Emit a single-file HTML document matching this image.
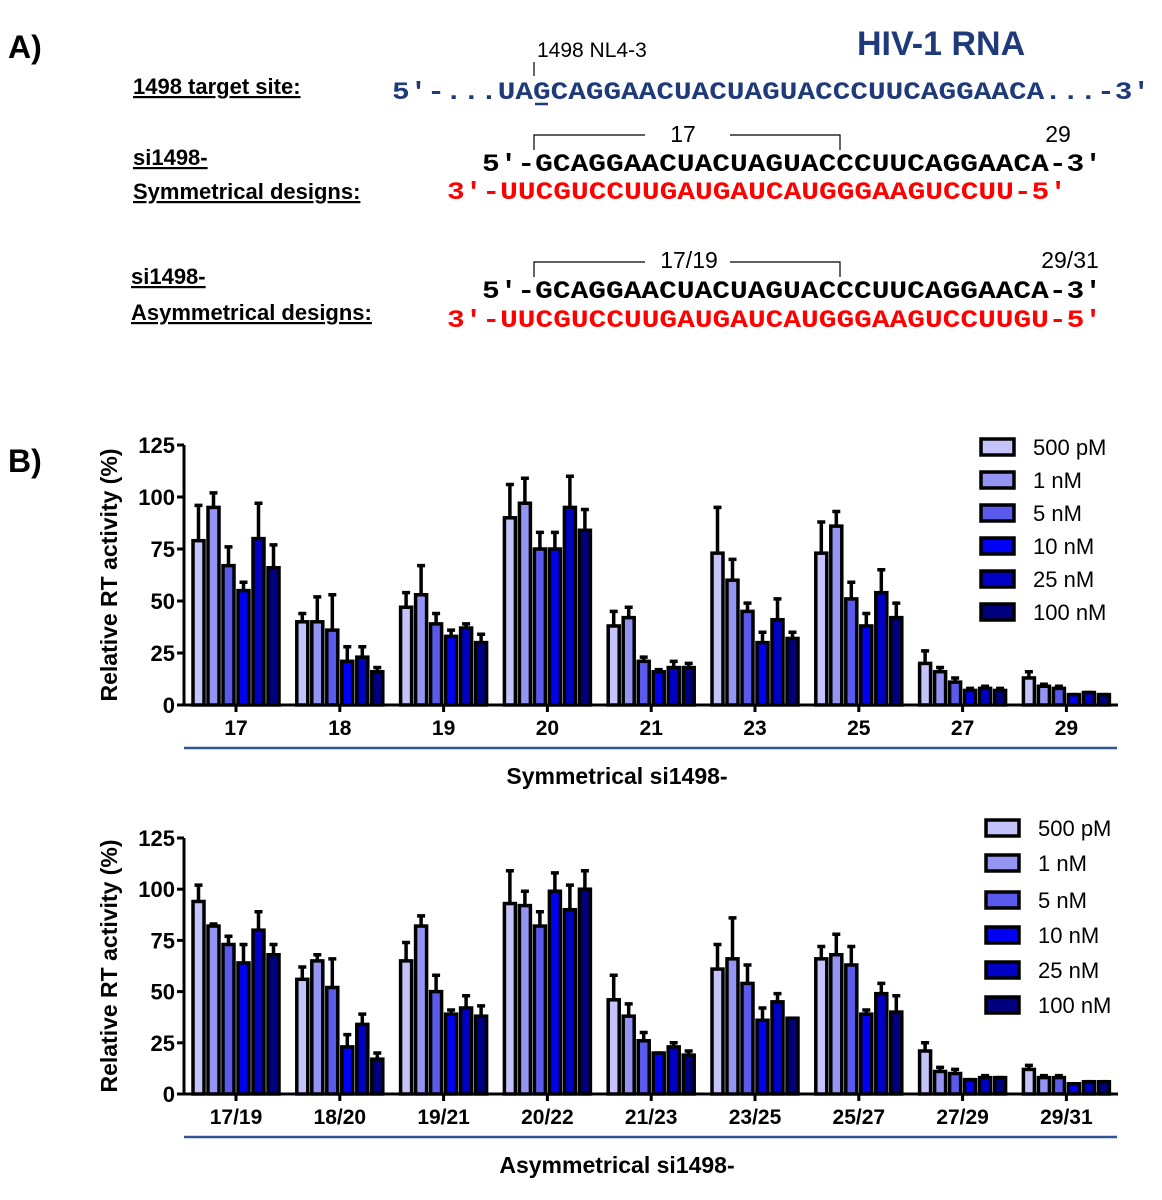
<!DOCTYPE html>
<html><head><meta charset="utf-8"><style>
body{margin:0;background:#fff}
svg{display:block}
text{font-family:"Liberation Sans",sans-serif}
.mono{font-family:"Liberation Mono",monospace;font-weight:bold}
</style></head><body>
<svg id="fig" width="1162" height="1200" viewBox="0 0 1162 1200">
<g>
<text x="8" y="58" font-size="32" font-weight="bold">A)</text>
<text x="537" y="57" font-size="21">1498 NL4-3</text>
<line x1="534" y1="62" x2="534" y2="76" stroke="#000" stroke-width="1.2"/>
<text x="857" y="55" font-size="34" font-weight="bold" fill="#1f3a7a">HIV-1 RNA</text>
<text x="133" y="94" font-size="22" font-weight="bold" text-decoration="underline">1498 target site:</text>
<text class="mono" x="392" y="99" font-size="25" fill="#1f3a7a" textLength="758" lengthAdjust="spacingAndGlyphs">5′-...UAGCAGGAACUACUAGUACCCUUCAGGAACA...-3′</text>
<line x1="535" y1="104" x2="548" y2="104" stroke="#1f3a7a" stroke-width="2.5"/>
<path d="M534 150V135H645M730 135H840V150" fill="none" stroke="#000" stroke-width="1.2"/>
<text x="683" y="142" font-size="23" text-anchor="middle">17</text>
<text x="1058" y="142" font-size="23" text-anchor="middle">29</text>
<text x="133" y="165" font-size="22" font-weight="bold" text-decoration="underline">si1498-</text>
<text x="133" y="199" font-size="22" font-weight="bold" text-decoration="underline">Symmetrical  designs:</text>
<text class="mono" x="482" y="171" font-size="25" textLength="620" lengthAdjust="spacingAndGlyphs">5′-GCAGGAACUACUAGUACCCUUCAGGAACA-3′</text>
<text class="mono" x="447" y="199" font-size="25" fill="#f00" textLength="620" lengthAdjust="spacingAndGlyphs">3′-UUCGUCCUUGAUGAUCAUGGGAAGUCCUU-5′</text>
<path d="M534 277V262H645M730 262H840V277" fill="none" stroke="#000" stroke-width="1.2"/>
<text x="689" y="268" font-size="23" text-anchor="middle">17/19</text>
<text x="1070" y="268" font-size="23" text-anchor="middle">29/31</text>
<text x="131" y="284" font-size="22" font-weight="bold" text-decoration="underline">si1498-</text>
<text x="131" y="320" font-size="22" font-weight="bold" text-decoration="underline">Asymmetrical designs:</text>
<text class="mono" x="482" y="298" font-size="25" textLength="620" lengthAdjust="spacingAndGlyphs">5′-GCAGGAACUACUAGUACCCUUCAGGAACA-3′</text>
<text class="mono" x="447" y="327" font-size="25" fill="#f00" textLength="655" lengthAdjust="spacingAndGlyphs">3′-UUCGUCCUUGAUGAUCAUGGGAAGUCCUUGU-5′</text>
</g>
<text x="8" y="472" font-size="32" font-weight="bold">B)</text>
<g id="c1"></g>
<g id="c2"></g>
</svg>
<script>
const seriesNames=["500 pM","1 nM","5 nM","10 nM","25 nM","100 nM"];
const colors=["#c4c4fa","#9494f2","#5a5aec","#0000f2","#0000c4","#00007e"];
const yTicks=[0,25,50,75,100,125];
const symCategories=["17","18","19","20","21","23","25","27","29"];
const symMeans=[[79,95,67,55,80,66],[40,40,36,21,23,16],[47,53,39,33,37,30],[90,97,75,75,95,84],[38,42,21,16,18,18],[73,60,45,30,41,32],[73,86,51,38,54,42],[20,16,11,7,8,7],[13,9,8,5,6,5]];
const symErrTop=[[96,102,76,59,97,77],[44,52,53,28,28,18],[54,67,44,36,39,34],[106,109,83,83,110,94],[45,47,23,17,21,20],[95,70,49,35,51,35],[88,93,59,44,65,49],[26,18,13,8,9,8],[16,10,9,5,6,5]];
const asymCategories=["17/19","18/20","19/21","20/22","21/23","23/25","25/27","27/29","29/31"];
const asymMeans=[[94,82,73,64,80,68],[56,65,52,23,34,17],[65,82,50,39,42,38],[93,92,82,99,90,100],[46,38,26,20,23,19],[61,66,54,36,45,37],[66,68,63,39,49,40],[21,11,10,7,8,8],[12,8,8,5,6,6]];
const asymErrTop=[[102,83,77,73,89,73],[62,68,66,29,39,20],[74,87,58,41,48,43],[109,99,89,108,102,109],[58,44,30,20,25,21],[73,86,63,42,49,37],[72,78,72,41,54,48],[25,13,12,7,9,8],[14,9,9,5,6,6]];
const NS="http://www.w3.org/2000/svg";
function mk(p,t,a){const e=document.createElementNS(NS,t);for(const k in a)e.setAttribute(k,a[k]);p.appendChild(e);return e;}
function chart(g,cats,means,errs,y0,y125,title,legX,legYs){
 const x0=184,x1=1118,step=103.8,c0=236;
 const y=v=>y0-(v/125)*(y0-y125);
 const xc=i=>c0+i*step;
 mk(g,"line",{x1:x0,y1:y125,x2:x0,y2:y0,stroke:"#000","stroke-width":3});
 mk(g,"line",{x1:x0,y1:y0,x2:x1,y2:y0,stroke:"#000","stroke-width":3});
 yTicks.forEach(t=>{mk(g,"line",{x1:x0-7,y1:y(t),x2:x0,y2:y(t),stroke:"#000","stroke-width":3});
  const tx=mk(g,"text",{x:x0-9,y:y(t)+8,"font-size":22,"font-weight":"bold","text-anchor":"end"});tx.textContent=t;
  
  });
 const yt=mk(g,"text",{x:0,y:0,"font-size":23,"font-weight":"bold","text-anchor":"middle",transform:`translate(117,${(y0+y125)/2}) rotate(-90)`});
 yt.textContent="Relative RT activity (%)";
 
 
 cats.forEach((c,i)=>{
  mk(g,"line",{x1:xc(i),y1:y0,x2:xc(i),y2:y0+7,stroke:"#000","stroke-width":3});
  const t=mk(g,"text",{x:xc(i),y:y0+30,"font-size":21,"font-weight":"bold","text-anchor":"middle"});t.textContent=c;
  
  
  means[i].forEach((m,j)=>{
   const bx=xc(i)-43+j*15;
   const er=mk(g,"path",{d:`M${bx+5.5} ${y(m)}V${y(errs[i][j])}M${bx+1.5} ${y(errs[i][j])}H${bx+9.5}`,stroke:"#000","stroke-width":3.5,fill:"none"});
   
   
   const r=mk(g,"rect",{x:bx,y:y(m),width:11,height:y0-y(m),fill:colors[j],stroke:"#000","stroke-width":3.5});
   
   
  });
 });
 mk(g,"line",{x1:184,y1:y0+43,x2:1117,y2:y0+43,stroke:"#2f5597","stroke-width":2.5});
 const tt=mk(g,"text",{x:617,y:y0+79,"font-size":23,"font-weight":"bold","text-anchor":"middle"});tt.textContent=title;
 
 
 seriesNames.forEach((s,j)=>{
  const ly=legYs[j];
  const lr=mk(g,"rect",{x:legX,y:ly-8,width:33,height:16,fill:colors[j],stroke:"#000","stroke-width":3.5});
  
  
  const lt=mk(g,"text",{x:legX+52,y:ly+8,"font-size":22});lt.textContent=s;
  
  
 });
}
chart(document.getElementById("c1"),symCategories,symMeans,symErrTop,705,445,"Symmetrical si1498-",981,[447,480,513,546,579,612]);
chart(document.getElementById("c2"),asymCategories,asymMeans,asymErrTop,1094,838,"Asymmetrical si1498-",986,[828,863,900,935,970,1005]);
</script>
</body></html>
